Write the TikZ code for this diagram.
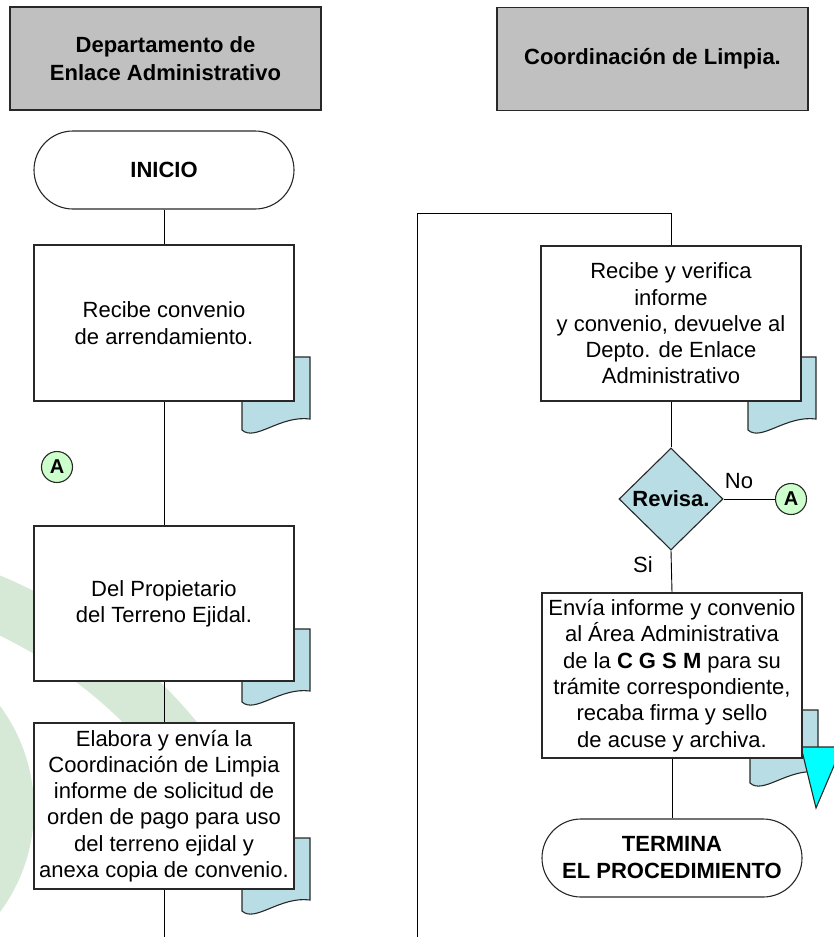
\documentclass[tikz,border=0pt]{standalone}
\usepackage{fontspec}
\setmainfont{Liberation Sans}
\usetikzlibrary{shapes.geometric}
\definecolor{wm}{RGB}{214,232,214}
\definecolor{docblue}{RGB}{185,221,228}
\definecolor{hdrgray}{RGB}{192,192,192}
\definecolor{agreen}{RGB}{204,255,204}
\definecolor{edgec}{RGB}{40,40,40}
\definecolor{offcyan}{RGB}{0,255,255}
\begin{document}
\begin{tikzpicture}[x=1pt,y=-1pt,
  base/.style={draw=edgec, line width=1.1pt, inner sep=0pt, align=center, font=\fontsize{22}{26.3}\selectfont},
  hdr/.style={base, fill=hdrgray, minimum width=311pt, minimum height=103pt, font=\fontsize{22}{27.5}\selectfont\bfseries},
  proc/.style={base, fill=white, minimum width=260pt},
  term/.style={base, fill=white, minimum width=260pt, minimum height=78pt, rounded corners=39pt, font=\fontsize{22}{27}\selectfont\bfseries},
  dec/.style={base, diamond, fill=docblue, minimum width=104pt, minimum height=102pt, font=\fontsize{22}{26}\selectfont\bfseries},
  conn/.style={base, circle, fill=agreen, minimum size=31pt, font=\fontsize{20}{22}\selectfont\bfseries},
  link/.style={draw=black, line width=0.9pt},
  lbl/.style={inner sep=0pt, font=\fontsize{22}{26}\selectfont},
  doc/.style={draw=edgec, line width=1.1pt, fill=docblue},
]
\useasboundingbox (0,0) rectangle (834,937);
% watermark
\fill[wm] (-139,809) circle[radius=173pt];
\begin{scope}
\clip (-300,0) rectangle (834,870);
\fill[wm, even odd rule] (-197,1046) circle[radius=510pt] (-197,1046) circle[radius=455pt];
\end{scope}
% document icons
\foreach \px/\py in {242/357, 242/629, 242/838, 748/357, 750/710}{
  \begin{scope}[shift={(\px,\py)}]
    \draw[doc] (0,0) -- (68,0) -- (68,62) .. controls (38,58) and (13,85) .. (0,73) -- cycle;
  \end{scope}
}
% off-page marker
\filldraw[fill=offcyan, draw=edgec, line width=1.1pt] (801,747) -- (842,747) -- (816,808) -- cycle;
% headers
\node[hdr] (h1) at (165.5,58.5) {Departamento de\\Enlace Administrativo};
\node[hdr] (h2) at (652.5,59) {Coordinación de Limpia.};
% left column
\node[term] (ini) at (164,170) {INICIO};
\node[proc, minimum height=156pt] (b1) at (164,323) {Recibe convenio\\de arrendamiento.};
\node[conn] (aL) at (57,467) {A};
\node[proc, minimum height=155pt] (b2) at (164,603.5) {Del Propietario\\del Terreno Ejidal.};
\node[proc, minimum height=166pt] (b3) at (164,806) {Elabora y envía la\\Coordinación de Limpia\\informe de solicitud de\\orden de pago para uso\\del terreno ejidal y\\anexa copia de convenio.};
\coordinate (endL) at (164,937);
% right column
\node[proc, minimum height=155pt] (b4) at (671,323.5) {Recibe y verifica\\informe\\y convenio, devuelve al\\Depto. de Enlace\\Administrativo};
\node[dec] (d1) at (671,499) {Revisa.};
\node[conn] (aR) at (791,499) {A};
\node[proc, minimum height=165pt] (b5) at (672,675.5) {Envía informe y convenio\\al Área Administrativa\\de la \textbf{C G S M} para su\\trámite correspondiente,\\recaba firma y sello\\de acuse y archiva.};
\node[term] (fin) at (672,858) {TERMINA\\EL PROCEDIMIENTO};
\node[lbl] (no) at (739,481) {No};
\node[lbl] (si) at (643,565) {Si};
\coordinate (startR) at (417,937);
\coordinate (turnR) at (417,213);
% connectors
\draw[link] (ini) -- (b1);
\draw[link] (b1) -- (b2);
\draw[link] (b2) -- (b3);
\draw[link] (b3) -- (endL);
\draw[link] (startR) -- (turnR) -| (b4.north);
\draw[link] (b4) -- (d1);
\draw[link] (d1.east) -- (aR);
\draw[link] (d1.south) -- (b5.north);
\draw[link] (b5) -- (fin);
\end{tikzpicture}
\end{document}
